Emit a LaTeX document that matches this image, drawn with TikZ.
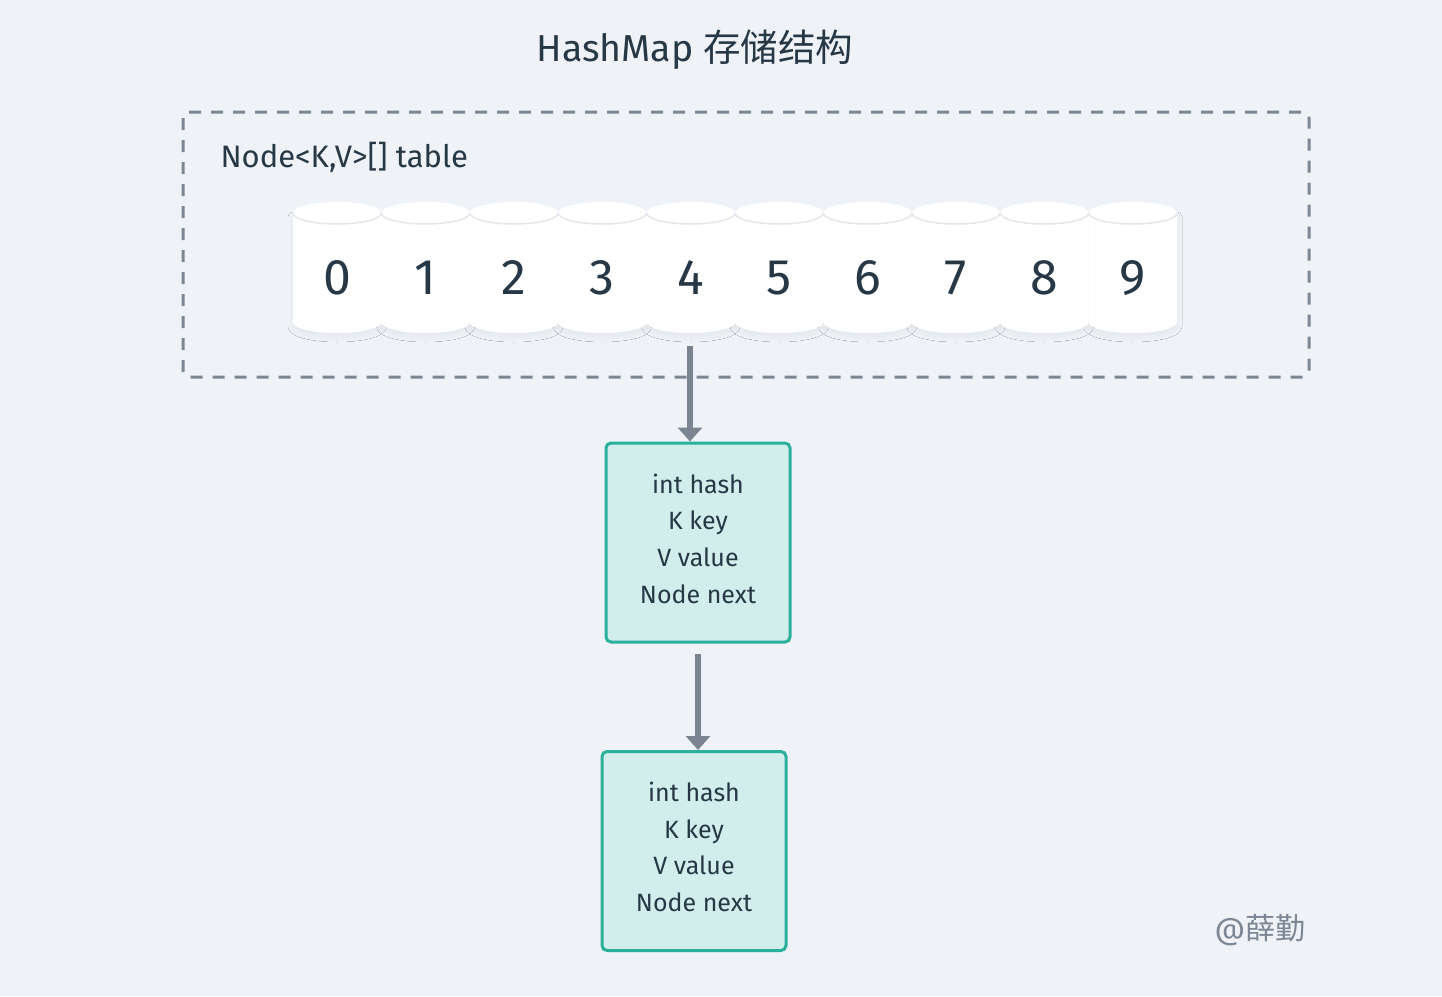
\documentclass[tikz,border=0pt]{standalone}
\usepackage{fontspec}
\setmainfont{Fira Sans}
\newfontfamily\cjk{Noto Sans CJK SC}
\usetikzlibrary{arrows.meta,shadows.blur}
\definecolor{bg}{HTML}{EFF3F7}
\definecolor{ink}{HTML}{263746}
\definecolor{dashc}{HTML}{7B8794}
\definecolor{arrc}{HTML}{7A8591}
\definecolor{nodefill}{HTML}{D1EEEC}
\definecolor{nodeline}{HTML}{2BB09C}
\definecolor{cylline}{HTML}{E3E7EB}
\tikzset{
  entrybox/.style={draw=nodeline, line width=3pt, fill=nodefill, rounded corners=5pt,
    minimum width=184pt, minimum height=199pt, inner sep=0pt},
  entrytext/.style={align=center, text=ink, font=\fontsize{25}{36.7}\selectfont, inner sep=0pt},
  linkarrow/.style={draw=arrc, line width=6pt, -{Triangle[length=14pt,width=24pt]}},
  digit/.style={text=ink, font=\fontsize{50}{50}\selectfont},
}
\begin{document}
\begin{tikzpicture}[x=1pt,y=-1pt]
\fill[bg] (0,0) rectangle (1442,996);
\useasboundingbox (0,0) rectangle (1442,996);
\node[text=ink, font=\fontsize{37.5}{40}\selectfont] (title) at (695,50) {HashMap {\cjk 存储结构}};
\draw[dashc, line width=3pt, dash pattern=on 12pt off 10pt, rounded corners=6pt] (183,112) rectangle (1309,377);
\node[text=ink, font=\fontsize{31}{34}\selectfont, anchor=west] (tlabel) at (217,157) {Node<K,V>[] table};
\foreach \i in {0,...,9}{
  \pgfmathsetmacro{\xl}{293+88.4*\i}
  \pgfmathsetmacro{\xr}{\xl+88.4}
  \pgfmathsetmacro{\xc}{\xl+44.2}
  \path[fill=white, blur shadow={shadow xshift=0pt, shadow yshift=-4pt, shadow opacity=5, shadow blur radius=5pt, shadow blur steps=10}]
     (\xl,213) -- (\xl,322) arc[start angle=180, end angle=360, x radius=44.2pt, y radius=11pt] -- (\xr,213) -- cycle;
}
\foreach \i in {0,...,9}{
  \pgfmathsetmacro{\xl}{293+88.4*\i}
  \pgfmathsetmacro{\xr}{\xl+88.4}
  \pgfmathsetmacro{\xc}{\xl+44.2}
  \fill[white] (\xl,213) -- (\xl,322) arc[start angle=180, end angle=360, x radius=44.2pt, y radius=11pt] -- (\xr,213) -- cycle;
  \fill[white] (\xc,213) ellipse[x radius=44.2pt, y radius=11pt];
  \draw[cylline, line width=1.5pt] (\xl,213) arc[start angle=180, end angle=360, x radius=44.2pt, y radius=11pt];
  \node[digit] (d\i) at (\xc,278) {\i};
}
\coordinate (a1s) at (690,346);
\node[entrybox] (n1) at (698,542.5) {};
\node[entrytext] (n1t) at ([yshift=4pt]n1.center) {int hash\\K key\\V value\\Node next};
\node[entrybox] (n2) at (694,851) {};
\node[entrytext] (n2t) at ([yshift=4pt]n2.center) {int hash\\K key\\V value\\Node next};
\coordinate (a2s) at (698,654);
\draw[linkarrow] (a1s) -- (a1s |- n1.north);
\draw[linkarrow] (a2s) -- (a2s |- n2.north);
\node[text=dashc, font=\fontsize{30}{32}\selectfont] (wm) at (1260,930) {@{\cjk 薛勤}};
\end{tikzpicture}
\end{document}
